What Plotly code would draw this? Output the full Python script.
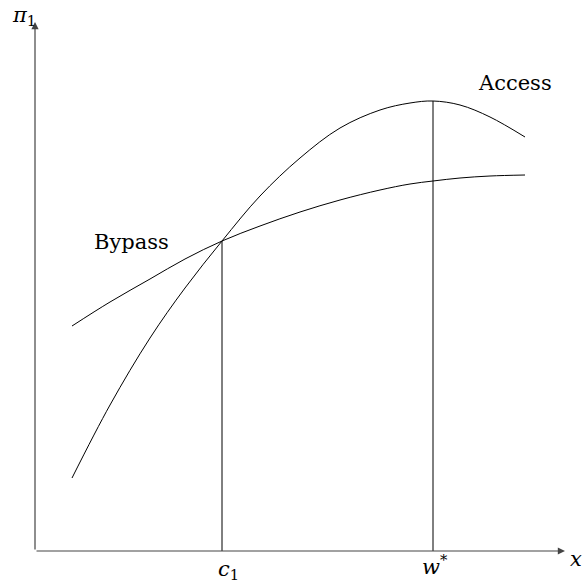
import plotly.graph_objects as go

# x positions along the horizontal axis (origin at the axes corner)
x_vals = [37, 75, 115, 150, 187, 225, 265, 305, 345, 375, 398, 425, 455, 490]
access = [73, 146, 213, 263, 310, 355, 393, 423, 441, 448, 450, 446, 434, 414]
bypass = [225, 249, 272, 292, 310, 325, 339, 351, 361, 367, 370, 373, 375, 376]

c1 = 187
w_star = 398
c1_height = 310
w_star_height = 450

x_end = 530
y_end = 529

font = dict(family="DejaVu Serif", size=21, color="black")

fig = go.Figure()

fig.add_trace(go.Scatter(x=x_vals, y=access, mode="lines", line_shape="spline",
                         line=dict(color="black", width=1)))
fig.add_trace(go.Scatter(x=x_vals, y=bypass, mode="lines", line_shape="spline",
                         line=dict(color="black", width=1)))

# vertical guides at c1 and w*
fig.add_trace(go.Scatter(x=[c1, c1], y=[0, c1_height], mode="lines",
                         line=dict(color="black", width=1)))
fig.add_trace(go.Scatter(x=[w_star, w_star], y=[0, w_star_height], mode="lines",
                         line=dict(color="black", width=1)))

# axes with arrow heads
fig.add_annotation(x=x_end, y=0, ax=0, ay=0, xref="x", yref="y", axref="x", ayref="y",
                   showarrow=True, arrowhead=2, arrowsize=1.2, arrowwidth=1.2,
                   arrowcolor="#444", text="")
fig.add_annotation(x=0, y=y_end, ax=0, ay=0, xref="x", yref="y", axref="x", ayref="y",
                   showarrow=True, arrowhead=2, arrowsize=1.2, arrowwidth=1.2,
                   arrowcolor="#444", text="")

labels = [
    (c1 + 6, -19, "<i>c</i><sub>1</sub>"),
    (w_star + 2, -14, "<i>w</i><sup>*</sup>"),
    (541, -8, "<i>x</i>"),
    (-11, 535, "<i>π</i><sub>1</sub>"),
    (480, 468, "Access"),
    (96, 309, "Bypass"),
]
for lx, ly, txt in labels:
    fig.add_annotation(x=lx, y=ly, xref="x", yref="y", text=txt, showarrow=False, font=font)

fig.update_layout(
    width=585, height=583,
    margin=dict(l=0, r=0, t=0, b=0),
    plot_bgcolor="white", paper_bgcolor="white",
    showlegend=False,
    xaxis=dict(range=[-35, 550], visible=False, fixedrange=True),
    yaxis=dict(range=[-32, 551], visible=False, fixedrange=True),
)

# drop the default page margin so the figure fills the window
fig.write_html("out.html", config={"displayModeBar": False},
               post_script="document.body.style.margin='0';document.body.style.overflow='hidden';")
